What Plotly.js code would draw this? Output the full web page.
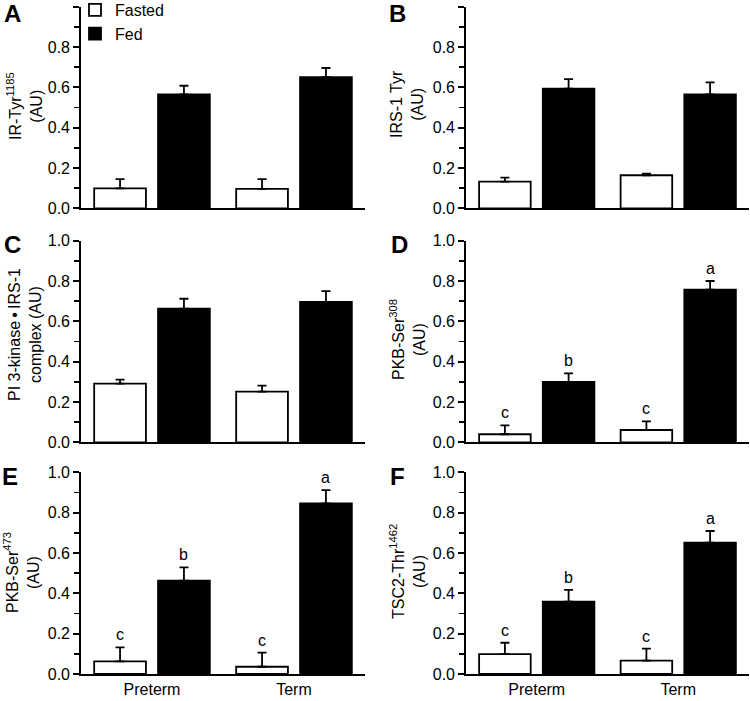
<!DOCTYPE html>
<html>
<head>
<meta charset="utf-8">
<script src="https://cdn.plot.ly/plotly-3.0.1.min.js"></script>
<style>html,body{margin:0;padding:0;background:#fff;}#chart{width:750px;height:701px;}</style>
</head>
<body>
<div id="chart"></div>
<script>
// ---- data ----
const categories = ['Preterm', 'Term'];
const panelLetters = ['A', 'B', 'C', 'D', 'E', 'F'];
const yTitles = [
  'IR-Tyr<sup>1185</sup><br>(AU)',
  'IRS-1 Tyr<br>(AU)',
  'PI 3-kinase\u2009•\u2009IRS-1<br>complex (AU)',
  'PKB-Ser<sup>308</sup><br>(AU)',
  'PKB-Ser<sup>473</sup><br>(AU)',
  'TSC2-Thr<sup>1462</sup><br>(AU)'
];
const fastedMeans = [
  [0.099, 0.096],
  [0.132, 0.164],
  [0.291, 0.251],
  [0.040, 0.061],
  [0.063, 0.036],
  [0.099, 0.066]
];
const fastedErr = [
  [0.046, 0.049],
  [0.020, 0.008],
  [0.020, 0.030],
  [0.044, 0.043],
  [0.069, 0.070],
  [0.056, 0.060]
];
const fedMeans = [
  [0.565, 0.650],
  [0.593, 0.565],
  [0.663, 0.696],
  [0.300, 0.757],
  [0.463, 0.846],
  [0.359, 0.651]
];
const fedErr = [
  [0.043, 0.046],
  [0.048, 0.060],
  [0.049, 0.054],
  [0.042, 0.043],
  [0.066, 0.066],
  [0.058, 0.058]
];
const fastedLetters = [null, null, null, ['c', 'c'], ['c', 'c'], ['c', 'c']];
const fedLetters = [null, null, null, ['b', 'a'], ['b', 'a'], ['b', 'a']];
const yTickVals = [0, 0.2, 0.4, 0.6, 0.8, 1.0];
const yMinorVals = [0.1, 0.3, 0.5, 0.7, 0.9];

// ---- layout geometry (pixels) ----
const W = 750, H = 701;
const xDom = [[81, 365], [466, 749]];
const yDom = [[6.7, 208.3], [240.7, 442.3], [472.3, 674]];
const titleX = [24, 407, 25, 407, 21, 407];
const titleY = [106, 104, 335, 340, 573, 572];
const letterPos = [[12, 14], [398, 14], [12, 244], [399, 244], [10, 476], [397, 476]];
const fx = p => p / W;
const fy = p => 1 - p / H;
const FONT = '"Liberation Sans", Arial, Helvetica, sans-serif';

const data = [];
const layout = {
  width: W, height: H,
  margin: {l: 0, r: 0, t: 0, b: 0, autoexpand: false},
  paper_bgcolor: '#fff', plot_bgcolor: 'rgba(0,0,0,0)',
  font: {family: FONT, size: 16, color: '#000'},
  barmode: 'group', bargap: 0.1, bargroupgap: 0.19,
  showlegend: true,
  legend: {x: fx(75), y: fy(-7), xanchor: 'left', yanchor: 'top',
           bgcolor: 'rgba(0,0,0,0)', font: {size: 16, family: FONT},
           tracegroupgap: 0, itemwidth: 30},
  annotations: []
};

for (let i = 0; i < 6; i++) {
  const col = i % 2, row = Math.floor(i / 2);
  const sfx = i === 0 ? '' : String(i + 1);
  const xa = 'x' + sfx, ya = 'y' + sfx;
  data.push({
    type: 'bar', x: categories, y: fastedMeans[i], name: 'Fasted',
    xaxis: xa, yaxis: ya, showlegend: i === 0, legendgroup: 'fasted',
    marker: {color: '#fff', line: {color: '#000', width: 1.8}},
    error_y: {type: 'data', symmetric: false, array: fastedErr[i], arrayminus: [0, 0],
              color: '#000', thickness: 1.8, width: 4.5},
    hoverinfo: 'skip'
  });
  data.push({
    type: 'bar', x: categories, y: fedMeans[i], name: 'Fed',
    xaxis: xa, yaxis: ya, showlegend: i === 0, legendgroup: 'fed',
    marker: {color: '#000', line: {color: '#000', width: 1.8}},
    error_y: {type: 'data', symmetric: false, array: fedErr[i], arrayminus: [0, 0],
              color: '#000', thickness: 1.8, width: 4.5},
    hoverinfo: 'skip'
  });
  const xKey = 'xaxis' + sfx, yKey = 'yaxis' + sfx;
  layout[xKey] = {
    domain: [fx(xDom[col][0]), fx(xDom[col][1])],
    anchor: ya, type: 'category', range: [-0.5, 1.5],
    showline: true, linecolor: '#000', linewidth: 1.8,
    ticks: '', showgrid: false, zeroline: false,
    showticklabels: row === 2, tickfont: {size: 16, family: FONT, color: '#000'},
    fixedrange: true
  };
  layout[yKey] = {
    domain: [fy(yDom[row][1]), fy(yDom[row][0])],
    anchor: xa, range: [0, 1],
    tickmode: 'array', tickvals: yTickVals, tickformat: '.1f',
    ticks: 'outside', ticklen: 6, tickwidth: 1.8, tickcolor: '#000',
    minor: {tickmode: 'array', tickvals: yMinorVals, ticks: 'outside', ticklen: 5,
            tickwidth: 1.8, tickcolor: '#000', showgrid: false},
    showline: true, linecolor: '#000', linewidth: 1.8,
    showgrid: false, zeroline: false,
    tickfont: {size: 16, family: FONT, color: '#000'},
    fixedrange: true
  };
  // panel letter
  layout.annotations.push({
    xref: 'paper', yref: 'paper', x: fx(letterPos[i][0]), y: fy(letterPos[i][1]),
    xanchor: 'center', yanchor: 'middle', showarrow: false,
    text: '<b>' + panelLetters[i] + '</b>', font: {size: 24, family: FONT, color: '#000'}
  });
  // y title
  layout.annotations.push({
    xref: 'paper', yref: 'paper', x: fx(titleX[i]), y: fy(titleY[i]),
    xanchor: 'center', yanchor: 'middle', showarrow: false, textangle: -90,
    text: yTitles[i], font: {size: 16, family: FONT, color: '#000'}
  });
  // significance letters
  for (let j = 0; j < 2; j++) {
    if (fastedLetters[i]) {
      layout.annotations.push({
        xref: xa, yref: ya, x: j - 0.225, y: fastedMeans[i][j] + fastedErr[i][j],
        yanchor: 'bottom', xanchor: 'center', yshift: 2, showarrow: false,
        text: fastedLetters[i][j], font: {size: 16, family: FONT, color: '#000'}
      });
    }
    if (fedLetters[i]) {
      layout.annotations.push({
        xref: xa, yref: ya, x: j + 0.225, y: fedMeans[i][j] + fedErr[i][j],
        yanchor: 'bottom', xanchor: 'center', yshift: 2, showarrow: false,
        text: fedLetters[i][j], font: {size: 16, family: FONT, color: '#000'}
      });
    }
  }
}

Plotly.newPlot('chart', data, layout, {staticPlot: true, displayModeBar: false});
</script>
</body>
</html>
